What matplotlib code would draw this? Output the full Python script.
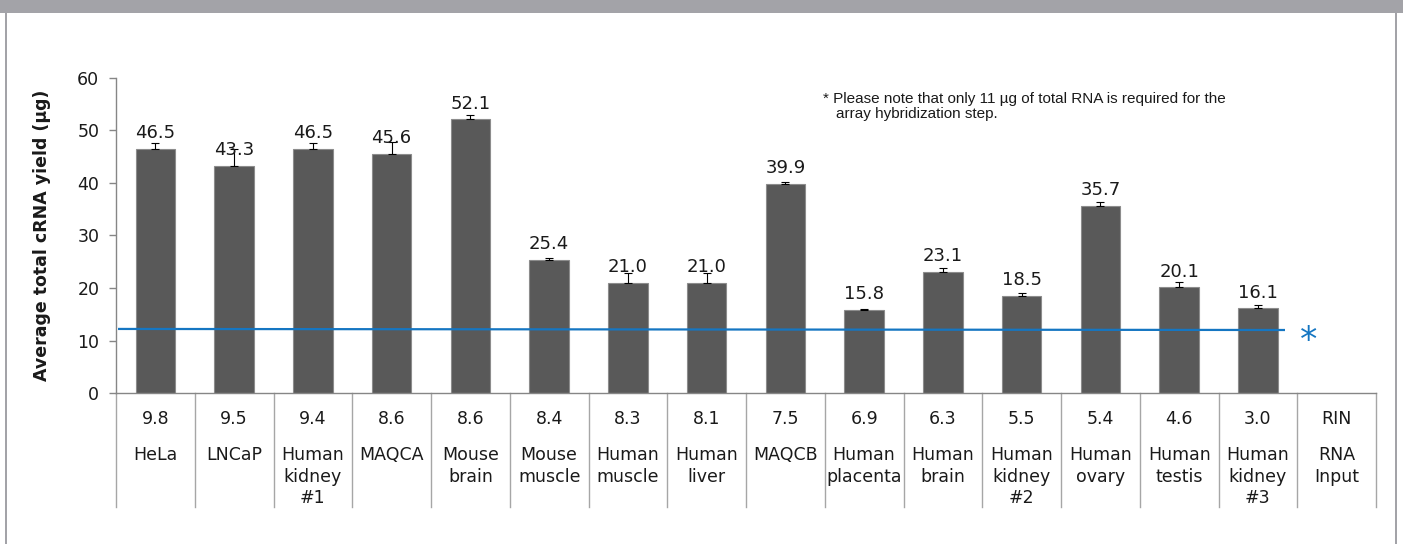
import matplotlib
matplotlib.use("Agg")
import matplotlib.pyplot as plt
from matplotlib import font_manager
from matplotlib.patches import Rectangle
from matplotlib.transforms import blended_transform_factory
import numpy as np

# ---- data ----
samples = ["HeLa", "LNCaP", "Human\nkidney\n#1", "MAQCA", "Mouse\nbrain",
           "Mouse\nmuscle", "Human\nmuscle", "Human\nliver", "MAQCB",
           "Human\nplacenta", "Human\nbrain", "Human\nkidney\n#2",
           "Human\novary", "Human\ntestis", "Human\nkidney\n#3"]
rin_values = [9.8, 9.5, 9.4, 8.6, 8.6, 8.4, 8.3, 8.1, 7.5, 6.9, 6.3, 5.5, 5.4, 4.6, 3.0]
cRNA_yield = [46.5, 43.3, 46.5, 45.6, 52.1, 25.4, 21.0, 21.0, 39.9, 15.8, 23.1, 18.5, 35.7, 20.1, 16.1]
yield_err = [1.1, 3.2, 1.1, 2.3, 0.8, 0.3, 1.9, 1.9, 0.3, 0.2, 0.8, 0.5, 0.6, 1.1, 0.6]
header_rin = "RIN"
header_name = "RNA\nInput"
required_line = [12.2, 12.0]   # start / end value of the required-amount line
y_ticks = [0, 10, 20, 30, 40, 50, 60]
ylabel = "Average total cRNA yield (µg)"
note_lines = ["* Please note that only 11 µg of total RNA is required for the",
              "array hybridization step."]

plt.rcParams['font.family'] = ['DejaVu Sans']
available = {f.name for f in font_manager.fontManager.ttflist}
note_font = 'Liberation Sans Narrow' if 'Liberation Sans Narrow' in available else 'Liberation Sans'

W, H = 1403, 544
fig = plt.figure(figsize=(W / 100, H / 100), dpi=100)
fig.patch.set_facecolor('white')

# frame decoration
border = '#a3a3a8'
fig.patches.append(Rectangle((0, 1 - 13 / H), 1, 13 / H, transform=fig.transFigure,
                             facecolor=border, edgecolor='none'))
fig.patches.append(Rectangle((5 / W, 0), 2 / W, 1, transform=fig.transFigure,
                             facecolor=border, edgecolor='none'))
fig.patches.append(Rectangle((1395 / W, 0), 2 / W, 1 - 13 / H, transform=fig.transFigure,
                             facecolor=border, edgecolor='none'))

x0, x1 = 116, 1376
y0, y1 = 393, 78
ax = fig.add_axes([x0 / W, (H - y0) / H, (x1 - x0) / W, (y0 - y1) / H])

n = len(samples)
x = np.arange(n)
ax.bar(x, cRNA_yield, width=0.5, color='#595959', edgecolor='#8c8c8c', linewidth=0.8, zorder=2)
ax.errorbar(x, cRNA_yield, yerr=[np.zeros(n), yield_err], fmt='none', ecolor='black',
            elinewidth=0.8, capsize=3, capthick=0.8, zorder=3)
for xi, v in zip(x, cRNA_yield):
    ax.annotate(f"{v:.1f}", xy=(xi, v), xytext=(0, 7.9), textcoords='offset points',
                ha='center', va='baseline', fontsize=13, color='#1a1a1a', zorder=4)

# required amount line
ncols = n + 1
line_x = [-0.5 + 2 / 78.75, -0.5 + (1285 - x0) / 78.75]
ax.plot(line_x, required_line, color='#1576c2', linewidth=1.6, zorder=5, solid_capstyle='butt')
ax.annotate("*", xy=(line_x[1], required_line[1]), xytext=(11, -15), textcoords='offset points',
            ha='left', va='baseline', fontsize=25, color='#1576c2')

ax.set_xlim(-0.5, ncols - 0.5)
ax.set_ylim(0, 60)
ax.set_yticks(y_ticks)
ax.set_xticks([])
for s in ['top', 'right']:
    ax.spines[s].set_visible(False)
ax.spines['left'].set_color('#868686')
ax.spines['bottom'].set_color('#868686')
ax.spines['left'].set_linewidth(1)
ax.spines['bottom'].set_linewidth(1)
ax.tick_params(axis='y', direction='out', length=5, width=1, color='#868686',
               labelsize=12.5, labelcolor='#1a1a1a', pad=7)
ax.set_ylabel(ylabel, fontsize=12.5, fontweight='bold', color='#1a1a1a')
ax.yaxis.set_label_coords((51 - x0) / (x1 - x0), 0.5)

# category table below axis
trans = blended_transform_factory(ax.transData, ax.transAxes)
axh = y0 - y1
for k in range(ncols + 1):
    ax.plot([k - 0.5, k - 0.5], [0, -(507 - y0) / axh], transform=trans, color='#a6a6a6',
            linewidth=1, clip_on=False, zorder=1)
rin_labels = [f"{r:.1f}" for r in rin_values] + [header_rin]
name_labels = samples + [header_name]
for k in range(ncols):
    ax.annotate(rin_labels[k], xy=(k, 0), xytext=(0, -22.6), textcoords='offset points',
                ha='center', va='baseline', fontsize=12.5, color='#1a1a1a', annotation_clip=False)
    ax.annotate(name_labels[k], xy=(k, 0), xytext=(0, -38.2), textcoords='offset points',
                ha='center', va='top', fontsize=12.5, color='#1a1a1a', linespacing=1.25,
                multialignment='center', annotation_clip=False)

# note
fig.text(823 / W, 1 - 103.3 / H, note_lines[0], ha='left', va='baseline', fontsize=11,
         family=note_font, color='#1a1a1a')
fig.text(836 / W, 1 - 118.3 / H, note_lines[1], ha='left', va='baseline', fontsize=11,
         family=note_font, color='#1a1a1a')

fig.savefig('out.png', dpi=100)
